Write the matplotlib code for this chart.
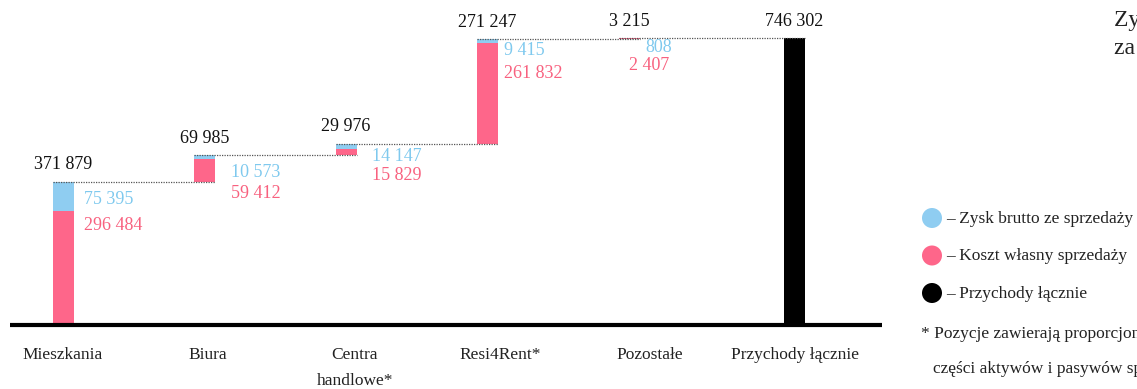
import matplotlib
matplotlib.use("Agg")
import matplotlib.pyplot as plt
from matplotlib.patches import Circle

# Segment data (tys. PLN)
categories = ["Mieszkania", "Biura", "Centra\nhandlowe*", "Resi4Rent*", "Pozostałe"]
total_label = "Przychody łącznie"
gross_profit = [75395, 10573, 14147, 9415, 808]
cost_of_sales = [296484, 59412, 15829, 261832, 2407]
revenue_total = 746302

BLUE = "#8fcdf1"
PINK = "#fe668a"
BLUE_TXT = "#7fc9ee"
PINK_TXT = "#f8617f"
FONT = ["Liberation Serif", "DejaVu Serif"]
NUM_FS = 13
CAT_FS = 12.5

def fmt(v):
    return f"{v:,}".replace(",", " ")

W, H = 1137, 389
fig = plt.figure(figsize=(W / 100, H / 100), dpi=100)

# main axes: baseline 325 px from top, 287 px for the total bar
px_per_unit_x = 141.5
xmin = -(63 - 10) / px_per_unit_x
xmax = xmin + 872 / px_per_unit_x
ymax = 325 / 287 * revenue_total
ax = fig.add_axes([10 / W, (H - 325) / H, 872 / W, 325 / H])
ax.set_xlim(xmin, xmax)
ax.set_ylim(0, ymax)
ax.axis("off")

positions = [0, 1, 2, 3, 4]
total_pos = (794 - 10) / px_per_unit_x + xmin
bar_w = 21 / px_per_unit_x

# per-bar label nudges (pixels)
seg_dx = [10, 16, 15, 6]
blue_dy = [-18, -17, -13, -11, -9]
pink_dy = [-44, -38, -32, -34, -27]

base = 0
for i, (p, c) in enumerate(zip(gross_profit, cost_of_sales)):
    x = positions[i]
    ax.bar(x, c, bottom=base, width=bar_w, color=PINK, linewidth=0)
    ax.bar(x, p, bottom=base + c, width=bar_w, color=BLUE, linewidth=0)
    top = base + c + p
    # connector to the next bar
    nxt = positions[i + 1] if i + 1 < len(positions) else total_pos
    ax.plot([x - bar_w / 2, nxt + bar_w / 2], [top, top], color="#555555",
            lw=0.9, ls=(0, (1, 1)), zorder=3)
    ax.annotate(fmt(p + c), (x, top), xytext=(0, 17),
                textcoords="offset pixels", ha="center", va="center",
                fontsize=NUM_FS, family=FONT, color="#111111")
    if i < 4:
        ax.annotate(fmt(p), (x + bar_w / 2, top), xytext=(seg_dx[i], blue_dy[i]),
                    textcoords="offset pixels", ha="left", va="center",
                    fontsize=NUM_FS, family=FONT, color=BLUE_TXT)
        ax.annotate(fmt(c), (x + bar_w / 2, top), xytext=(seg_dx[i], pink_dy[i]),
                    textcoords="offset pixels", ha="left", va="center",
                    fontsize=NUM_FS, family=FONT, color=PINK_TXT)
    else:
        ax.annotate(fmt(p), (x + bar_w / 2, top), xytext=(33, blue_dy[i]),
                    textcoords="offset pixels", ha="right", va="center",
                    fontsize=NUM_FS, family=FONT, color=BLUE_TXT)
        ax.annotate(fmt(c), (x + bar_w / 2, top), xytext=(30, pink_dy[i]),
                    textcoords="offset pixels", ha="right", va="center",
                    fontsize=NUM_FS, family=FONT, color=PINK_TXT)
    base = top

ax.bar(total_pos, revenue_total, width=bar_w, color="black", linewidth=0)
ax.annotate(fmt(revenue_total), (total_pos, revenue_total), xytext=(0, 17),
            textcoords="offset pixels", ha="center", va="center",
            fontsize=NUM_FS, family=FONT, color="#111111")

# baseline
ax.plot([xmin, xmax], [0, 0], color="black", lw=3, solid_capstyle="butt",
        clip_on=False, zorder=4)

# category labels
cat_dx = [0, 3, 9, 13, 21]
for i, name in enumerate(categories):
    ax.annotate(name, (positions[i], 0), xytext=(cat_dx[i], -22),
                textcoords="offset pixels", ha="center", va="top",
                fontsize=CAT_FS, family=FONT, color="#222222", linespacing=1.85)
ax.annotate(total_label, (total_pos, 0), xytext=(1, -22),
            textcoords="offset pixels", ha="center", va="top",
            fontsize=CAT_FS, family=FONT, color="#222222")

# side panel: title, legend, footnote (pixel coordinates)
ov = fig.add_axes([0, 0, 1, 1], zorder=-1)
ov.set_xlim(0, W)
ov.set_ylim(H, 0)
ov.axis("off")
ov.text(1114, 20, "Zysk brutto ze sprzedaży", fontsize=17, family=FONT,
        va="center", ha="left", color="#222222")
ov.text(1114, 48, "za 2021 rok (tys. PLN)", fontsize=17, family=FONT,
        va="center", ha="left", color="#222222")

legend_items = [(BLUE, "– Zysk brutto ze sprzedaży"),
                (PINK, "– Koszt własny sprzedaży"),
                ("black", "– Przychody łącznie")]
for k, (col, txt) in enumerate(legend_items):
    y = 218 + k * 37.5
    ov.add_patch(Circle((932, y), 10, color=col, linewidth=0))
    ov.text(946, y + 1, txt, fontsize=12.5, family=FONT, va="center", ha="left",
            color="#222222")
ov.text(921, 334, "* Pozycje zawierają proporcjonalną konsolidację", fontsize=12.5,
        family=FONT, va="center", ha="left", color="#222222")
ov.text(933, 369, "części aktywów i pasywów spółek współkontrolowanych", fontsize=12.5,
        family=FONT, va="center", ha="left", color="#222222")

fig.savefig("out.png", dpi=100)
